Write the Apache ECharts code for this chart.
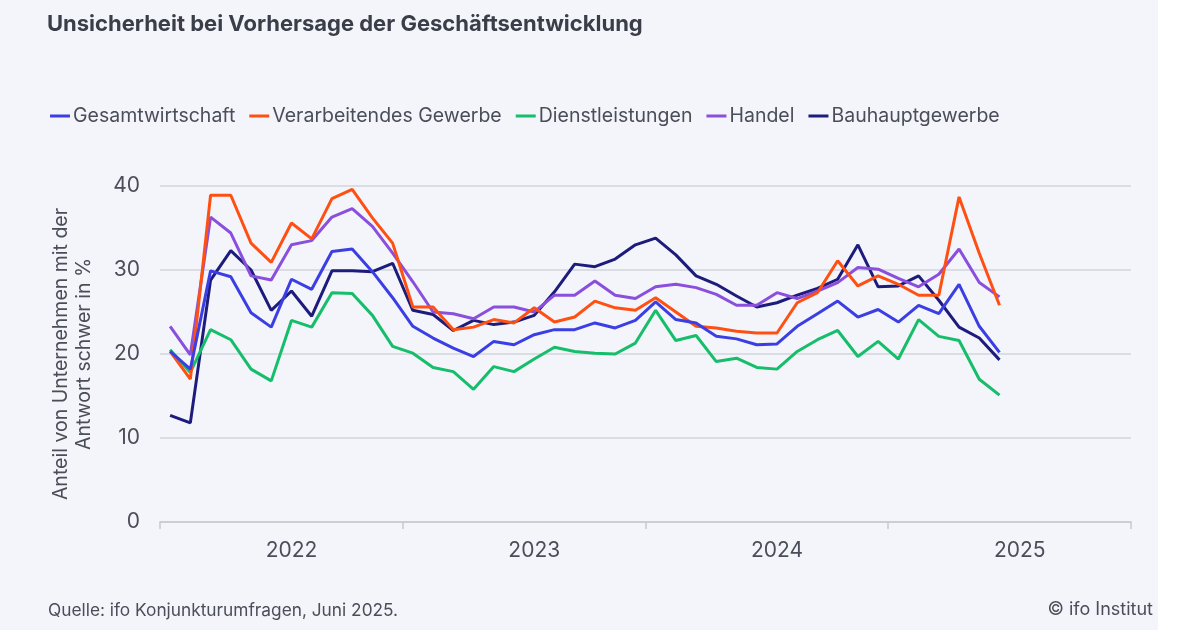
<!DOCTYPE html>
<html>
<head>
<meta charset="utf-8">
<script src="https://cdn.jsdelivr.net/npm/echarts@6/dist/echarts.min.js"></script>
<style>
  html, body { margin: 0; padding: 0; background: #f4f5fa; }
  #chart { width: 1200px; height: 630px; }
</style>
</head>
<body>
<div id="chart"></div>
<script>
// Jahre der x-Achse (Monatswerte Jan 2022 - Jun 2025)
const years = ['2022', '2023', '2024', '2025']
const months = []
years.forEach(function (y) {
  for (let m = 1; m <= 12; m++) months.push(y + '-' + (m < 10 ? '0' + m : m))
})

const yTicks = [0, 10, 20, 30, 40]

const gesamtwirtschaft = [20.3, 18.2, 29.9, 29.2, 24.9, 23.2, 28.9, 27.7, 32.2, 32.5, 29.8, 26.7,
  23.3, 21.9, 20.7, 19.7, 21.5, 21.1, 22.3, 22.9, 22.9, 23.7, 23.1, 24.0,
  26.2, 24.1, 23.7, 22.1, 21.8, 21.1, 21.2, 23.3, 24.8, 26.3, 24.4, 25.3,
  23.8, 25.8, 24.8, 28.3, 23.3, 20.2]

const verarbeitendes = [20.3, 17.0, 38.9, 38.9, 33.2, 30.9, 35.6, 33.7, 38.5, 39.6, 36.2, 33.2,
  25.6, 25.6, 22.9, 23.2, 24.1, 23.7, 25.5, 23.8, 24.4, 26.3, 25.5, 25.2,
  26.7, 25.0, 23.3, 23.1, 22.7, 22.5, 22.5, 26.1, 27.3, 31.1, 28.1, 29.3,
  28.3, 27.0, 27.0, 38.7, 32.0, 25.8]

const dienstleistungen = [20.5, 17.8, 22.9, 21.7, 18.2, 16.8, 24.0, 23.2, 27.3, 27.2, 24.6, 20.9,
  20.1, 18.4, 17.9, 15.8, 18.5, 17.9, 19.4, 20.8, 20.3, 20.1, 20.0, 21.3,
  25.2, 21.6, 22.2, 19.1, 19.5, 18.4, 18.2, 20.3, 21.7, 22.8, 19.7, 21.5,
  19.4, 24.1, 22.1, 21.6, 17.0, 15.1]

const handel = [23.3, 19.9, 36.3, 34.4, 29.3, 28.8, 33.0, 33.5, 36.3, 37.3, 35.2, 32.0,
  28.6, 25.0, 24.8, 24.2, 25.6, 25.6, 25.0, 27.0, 27.0, 28.7, 27.0, 26.6,
  28.0, 28.3, 27.9, 27.1, 25.8, 25.8, 27.3, 26.6, 27.5, 28.5, 30.3, 30.1,
  29.0, 28.0, 29.5, 32.5, 28.5, 26.8]

const bauhauptgewerbe = [12.7, 11.8, 28.8, 32.3, 30.0, 25.2, 27.5, 24.5, 29.9, 29.9, 29.8, 30.8,
  25.2, 24.7, 22.8, 24.0, 23.5, 23.8, 24.6, 27.4, 30.7, 30.4, 31.3, 33.0,
  33.8, 31.8, 29.3, 28.3, 26.9, 25.6, 26.1, 27.0, 27.8, 28.9, 33.0, 28.0,
  28.1, 29.3, 26.4, 23.2, 21.9, 19.3]

const seriesNames = ['Gesamtwirtschaft', 'Verarbeitendes Gewerbe', 'Dienstleistungen', 'Handel', 'Bauhauptgewerbe']
const seriesData = [gesamtwirtschaft, verarbeitendes, dienstleistungen, handel, bauhauptgewerbe]
const colors = ['#3b3fe3', '#ff5014', '#16bd6a', '#8a4fdc', '#1d1c7c']

const textColor = '#4a4e59'
const font = 'Inter, "Noto Sans", sans-serif'

const myCharts = echarts.init(document.getElementById('chart'))
myCharts.setOption({
  backgroundColor: '#f4f5fa',
  color: colors,
  textStyle: { fontFamily: font },
  title: {
    text: 'Unsicherheit bei Vorhersage der Geschäftsentwicklung',
    left: 42,
    top: 8,
    textStyle: { fontSize: 22, fontWeight: 'bold', color: '#3a3e48', fontFamily: font }
  },
  legend: {
    left: 45,
    top: 101,
    icon: 'rect',
    itemWidth: 20,
    itemHeight: 3,
    itemGap: 14,
    textStyle: { fontSize: 19.5, color: textColor, padding: [0, 0, 0, -2] },
    data: seriesNames
  },
  graphic: [
    { type: 'rect', right: 0, top: 0, shape: { width: 42, height: 630 }, style: { fill: '#ffffff' }, silent: true },
    {
      type: 'text', left: 48, top: 602,
      style: { text: 'Quelle: ifo Konjunkturumfragen, Juni 2025.', fill: textColor, font: '17.3px ' + font }
    },
    {
      type: 'text', right: 47, top: 601,
      style: { text: '© ifo Institut', fill: textColor, font: '18px ' + font }
    }
  ],
  grid: {
    left: 160,
    right: 69,
    top: 186,
    bottom: 108,
    containLabel: false
  },
  xAxis: {
    type: 'category',
    data: months,
    boundaryGap: true,
    axisLine: { lineStyle: { color: '#c6c9d2', width: 1.5 } },
    axisTick: {
      show: true,
      length: 7,
      interval: function (index) { return index % 12 === 0 },
      lineStyle: { color: '#c6c9d2', width: 1.5 }
    },
    axisLabel: {
      interval: function (index) { return index % 12 === 6 },
      formatter: function (v) { return v.slice(0, 4) },
      fontSize: 21,
      color: textColor,
      margin: 18
    },
    splitLine: { show: false }
  },
  yAxis: {
    type: 'value',
    min: yTicks[0],
    max: yTicks[yTicks.length - 1],
    interval: 10,
    name: 'Anteil von Unternehmen mit der\nAntwort schwer in %',
    nameLocation: 'middle',
    nameGap: 64,
    nameTextStyle: { fontSize: 19.5, color: textColor, lineHeight: 23 },
    axisLine: { show: false },
    axisTick: { show: false },
    axisLabel: { fontSize: 21, color: textColor, margin: 20 },
    splitLine: { lineStyle: { color: '#d2d4dd', width: 1.5 } }
  },
  series: seriesNames.map(function (name, i) {
    return {
      name: name,
      type: 'line',
      data: seriesData[i],
      showSymbol: false,
      symbol: 'none',
      lineStyle: { width: 3 },
      emphasis: { disabled: true },
      z: 10 - i
    }
  })
})
</script>
</body>
</html>
